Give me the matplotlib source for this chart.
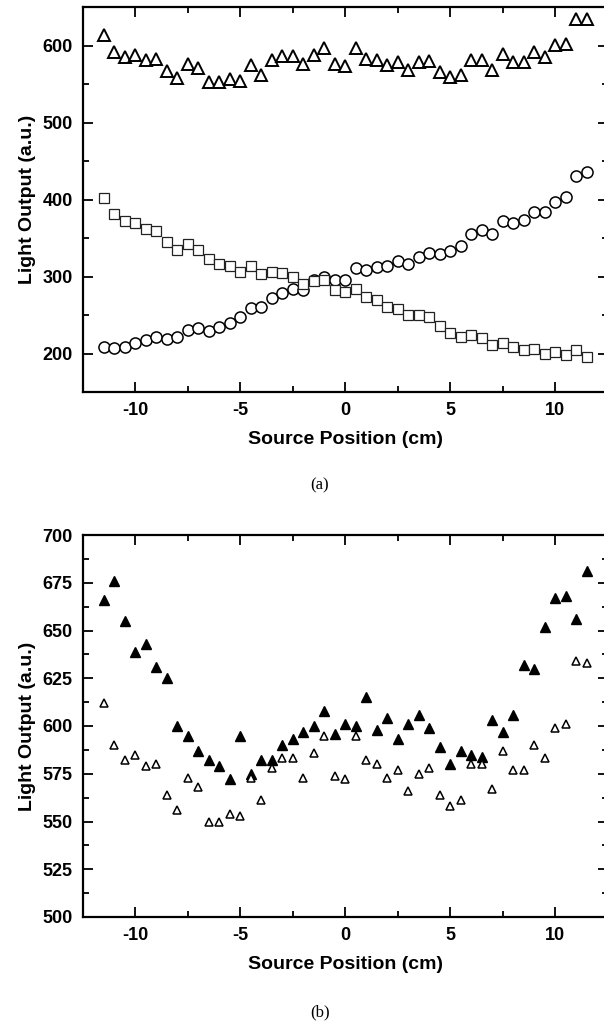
import numpy as np
import matplotlib
matplotlib.use("Agg")
import matplotlib.pyplot as plt
from matplotlib.ticker import MultipleLocator

plt.rcParams['font.family'] = ['Liberation Sans', 'DejaVu Sans']
plt.rcParams['axes.unicode_minus'] = False

# source positions, 0.5 cm steps
pos = np.arange(-11.5, 11.51, 0.5)

# panel (a)
tri_a = [614, 591, 585, 588, 581, 582, 567, 558, 576, 571, 552, 552, 556, 554,
         575, 562, 581, 586, 586, 576, 588, 597, 576, 573, 597, 582, 581, 575,
         579, 568, 578, 580, 566, 559, 562, 581, 581, 568, 589, 578, 578, 591,
         585, 601, 602, 635, 635]
circ_a = [209, 207, 209, 214, 217, 222, 219, 222, 231, 233, 229, 234, 240, 247,
          259, 261, 272, 279, 284, 282, 295, 300, 295, 295, 311, 309, 312, 313,
          320, 316, 325, 331, 329, 333, 340, 355, 360, 355, 372, 369, 374, 384,
          384, 397, 403, 430, 436]
sq_a = [402, 381, 372, 370, 362, 359, 345, 335, 342, 335, 323, 316, 313, 306,
        314, 303, 306, 304, 299, 290, 294, 295, 282, 280, 284, 273, 269, 261,
        258, 250, 250, 248, 236, 226, 222, 224, 220, 211, 214, 208, 204, 206,
        200, 202, 198, 204, 196]

# panel (b)
filled_b = [666, 676, 655, 639, 643, 631, 625, 600, 595, 587, 582, 579, 572, 595,
            575, 582, 582, 590, 593, 597, 600, 608, 596, 601, 600, 615, 598, 604,
            593, 601, 606, 599, 589, 580, 587, 585, 584, 603, 597, 606, 632, 630,
            652, 667, 668, 656, 681]
open_b = [612, 590, 582, 585, 579, 580, 564, 556, 573, 568, 550, 550, 554, 553,
          573, 561, 578, 583, 583, 573, 586, 595, 574, 572, 595, 582, 580, 573,
          577, 566, 575, 578, 564, 558, 561, 580, 580, 567, 587, 577, 577, 590,
          583, 599, 601, 634, 633]

W, H = 604, 1025
fig = plt.figure(figsize=(W / 100, H / 100), dpi=100)

def frame(ax, ymaj, ymin):
    ax.set_xlim(-12.5, 12.5)
    ax.xaxis.set_major_locator(MultipleLocator(5))
    ax.xaxis.set_minor_locator(MultipleLocator(2.5))
    ax.yaxis.set_major_locator(MultipleLocator(ymaj))
    ax.yaxis.set_minor_locator(MultipleLocator(ymin))
    ax.tick_params(which='both', direction='in', top=True, right=True, width=1.3)
    ax.tick_params(which='major', length=7, labelsize=13, pad=7)
    ax.tick_params(which='minor', length=4)
    for s in ax.spines.values():
        s.set_linewidth(1.6)
    for lab in ax.get_xticklabels() + ax.get_yticklabels():
        lab.set_fontweight('bold')
    ax.set_xlabel("Source Position (cm)", fontsize=14, fontweight='bold', labelpad=9)
    ax.set_ylabel("Light Output (a.u.)", fontsize=14, fontweight='bold', labelpad=5)

# axes in pixel terms: left 82.5, right 607.5
left = 82.5 / W
width = 525 / W

ax1 = fig.add_axes([left, 1 - 392 / H, width, (392 - 7) / H])
ax1.plot(pos, tri_a, ls='none', marker='^', ms=8.5, mfc='white', mec='black', mew=1.4)
ax1.plot(pos, circ_a, ls='none', marker='o', ms=8, mfc='white', mec='black', mew=1.1)
ax1.plot(pos, sq_a, ls='none', marker='s', ms=7.2, mfc='white', mec='#222222', mew=0.9)
ax1.set_ylim(150, 650)
frame(ax1, 100, 50)
ax1.set_yticks([200, 300, 400, 500, 600])
for lab in ax1.get_yticklabels():
    lab.set_fontweight('bold')

ax2 = fig.add_axes([left, 1 - 917 / H, width, (917 - 535) / H])
ax2.plot(pos, filled_b, ls='none', marker='^', ms=7, mfc='black', mec='black', mew=1)
ax2.plot(pos, open_b, ls='none', marker='^', ms=5.8, mfc='white', mec='black', mew=1.1)
ax2.set_ylim(500, 700)
frame(ax2, 25, 12.5)

fig.text(320 / W, 1 - 485 / H, "(a)", ha='center', va='center', fontsize=12,
         family=['Liberation Serif', 'DejaVu Serif'])
fig.text(320 / W, 1 - 1012 / H, "(b)", ha='center', va='center', fontsize=12,
         family=['Liberation Serif', 'DejaVu Serif'])

fig.savefig("out.png", dpi=100)
